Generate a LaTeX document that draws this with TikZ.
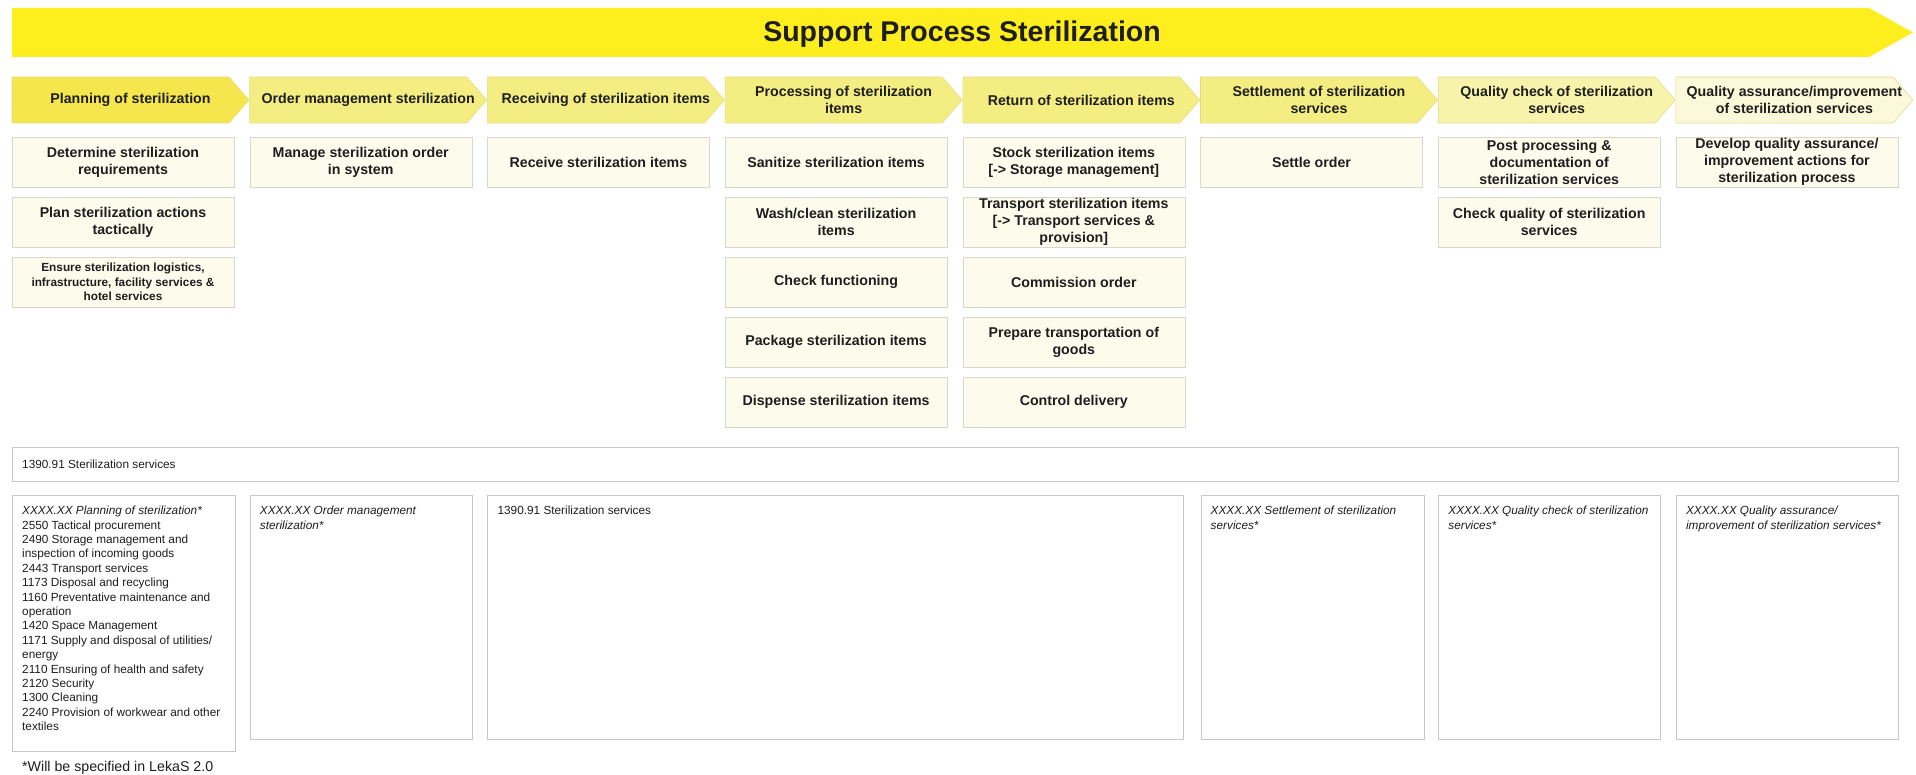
\documentclass[tikz,border=0pt]{standalone}
\usepackage{fontspec}
\setmainfont{Liberation Sans}
\definecolor{hdr}{HTML}{FFEE1E}
\definecolor{chvA}{HTML}{F4E64C}
\definecolor{chvB}{HTML}{F4EE82}
\definecolor{chvC}{HTML}{F7F3AA}
\definecolor{chvD}{HTML}{FBF9DA}
\definecolor{chvline}{HTML}{E4DC8C}
\definecolor{actfill}{HTML}{FDFCEC}
\definecolor{actline}{HTML}{D8D8CC}
\definecolor{lowline}{HTML}{C8C8C8}
\definecolor{txt}{HTML}{1E1E1E}
\begin{document}
\begin{tikzpicture}[x=1pt,y=-1pt,
    chev/.style={draw=chvline,line width=0.6pt},
    chevtext/.style={font=\bfseries\fontsize{14.2}{16.7}\selectfont,align=center,text=txt},
    act/.style={draw=actline,fill=actfill,minimum width=222pt,minimum height=50pt,inner xsep=3pt,inner ysep=0pt,align=center,text=txt,font=\bfseries\fontsize{14.2}{17}\selectfont},
    actsm/.style={act,font=\bfseries\fontsize{11.8}{14.5}\selectfont},
    lowbox/.style={draw=lowline,line width=0.8pt,fill=white,anchor=north west,inner sep=0pt},
    lowtext/.style={anchor=north west,align=left,inner sep=0pt,text=txt,font=\fontsize{11.8}{14.4}\selectfont}]
    \useasboundingbox (0,0) rectangle (1916,775);
    \fill[hdr] (12,8) -- (1869,8) -- (1913,32.5) -- (1869,57) -- (12,57) -- cycle;
    \node[font=\bfseries\fontsize{28.5}{30}\selectfont,text=txt] (title) at (962,34) {Support Process Sterilization};
    \foreach \i/\c/\t in {0/chvA/{Planning of sterilization},1/chvB/{Order management sterilization},2/chvB/{Receiving of sterilization items},3/chvB/{Processing of sterilization\\items},4/chvB/{Return of sterilization items},5/chvB/{Settlement of sterilization\\services},6/chvC/{Quality check of sterilization\\services},7/chvD/{Quality assurance/improvement\\of sterilization services}}{
        \filldraw[chev,fill=\c] ({12+237.7*\i},77) -- ++(217,0) -- ++(20,23) -- ++(-20,23) -- ++(-217,0) -- cycle;
        \node[chevtext] (ph\i) at ({130.5+237.7*\i},100) {\t};
    }
    \foreach \i/\r/\s/\t in {0/0/act/{Determine sterilization\\requirements},0/1/act/{Plan sterilization actions\\tactically},0/2/actsm/{Ensure sterilization logistics,\\infrastructure, facility services \&\\hotel services},
        1/0/act/{Manage sterilization order\\in system},
        2/0/act/{Receive sterilization items},
        3/0/act/{Sanitize sterilization items},3/1/act/{Wash/clean sterilization\\items},3/2/act/{Check functioning},3/3/act/{Package sterilization items},3/4/act/{Dispense sterilization items},
        4/0/act/{Stock sterilization items\\{[}-> Storage management{]}},4/1/act/{Transport sterilization items\\{[}-> Transport services \&\\provision{]}},4/2/act/{Commission order},4/3/act/{Prepare transportation of\\goods},4/4/act/{Control delivery},
        5/0/act/{Settle order},
        6/0/act/{Post processing \&\\documentation of\\sterilization services},6/1/act/{Check quality of sterilization\\services},
        7/0/act/{Develop quality assurance/\\improvement actions for\\sterilization process}}
    \node[\s] (a\i\r) at ({123+237.7*\i},{162+60*\r}) {\t};
    \node[lowbox,minimum width=1886,minimum height=34] (wide) at (12,447) {};
    \node[lowtext,anchor=west] (widetext) at ([xshift=10pt]wide.west) {1390.91 Sterilization services};
    \foreach \n/\x/\w/\h/\t in {1/12/223/256/{\textit{XXXX.XX Planning of sterilization*}\\2550 Tactical procurement\\2490 Storage management and\\inspection of incoming goods\\2443 Transport services\\1173 Disposal and recycling\\1160 Preventative maintenance and\\operation\\1420 Space Management\\1171 Supply and disposal of utilities/\\energy\\2110 Ensuring of health and safety\\2120 Security\\1300 Cleaning\\2240 Provision of workwear and other\\textiles},
        2/249.7/222/244/{\textit{XXXX.XX Order management}\\\textit{sterilization*}},
        3/487.4/696/244/{1390.91 Sterilization services},
        4/1200.5/223/244/{\textit{XXXX.XX Settlement of sterilization}\\\textit{services*}},
        5/1438.2/222/244/{\textit{XXXX.XX Quality check of sterilization}\\\textit{services*}},
        6/1675.9/222/244/{\textit{XXXX.XX Quality assurance/}\\\textit{improvement of sterilization services*}}}{
        \node[lowbox,minimum width=\w,minimum height=\h] (b\n) at (\x,495) {};
        \node[lowtext] (t\n) at ([shift={(10,11)}]b\n.north west) {\t};
    }
    \node[anchor=west,inner sep=0pt,text=txt,font=\fontsize{14.2}{17}\selectfont] (note) at (22,768) {*Will be specified in LekaS 2.0};
\end{tikzpicture}
\end{document}
